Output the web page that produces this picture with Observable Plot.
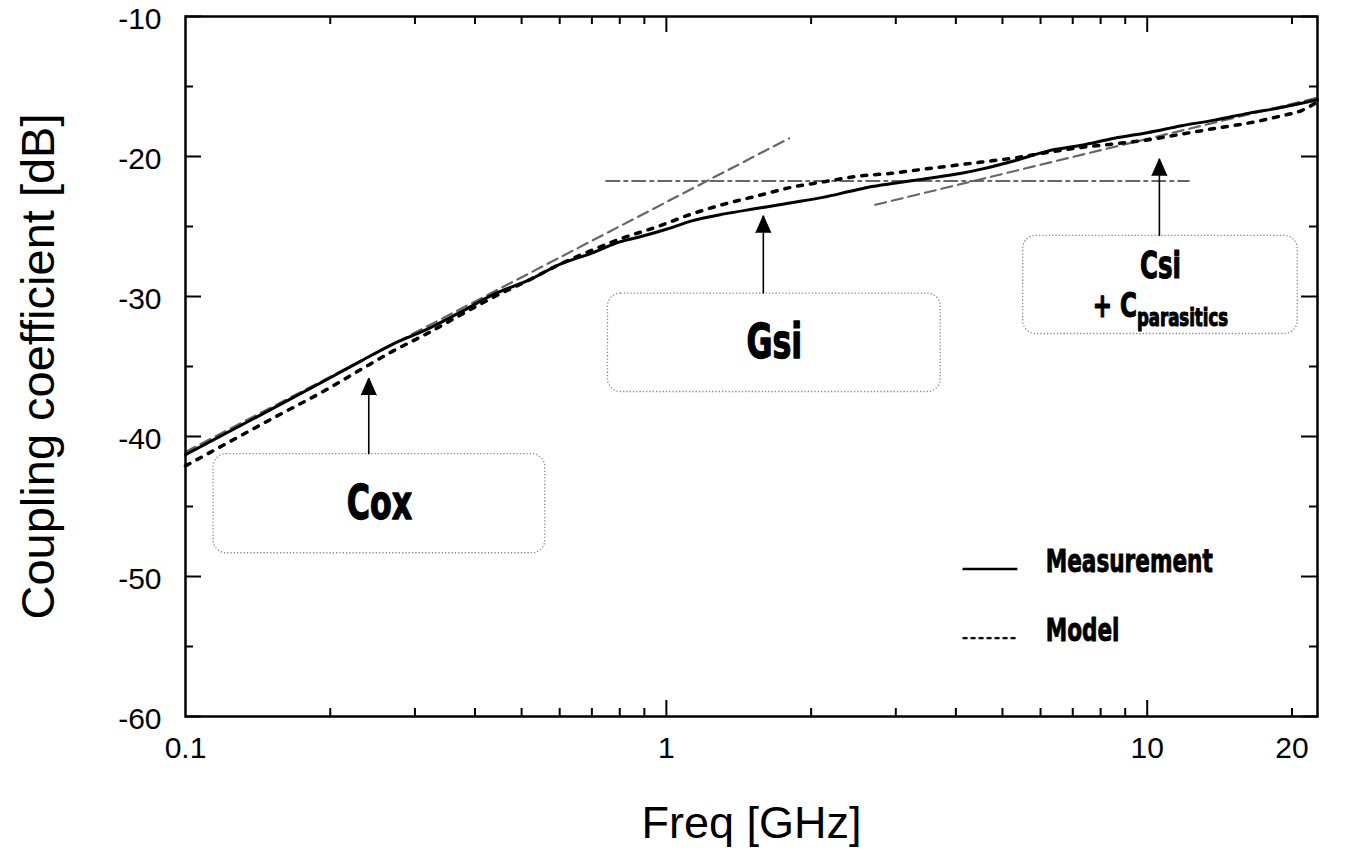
<!DOCTYPE html>
<html><head><meta charset="utf-8">
<script src="https://cdn.jsdelivr.net/npm/d3@7"></script>
<script src="https://cdn.jsdelivr.net/npm/@observablehq/plot@0.6"></script>
<style>html,body{margin:0;padding:0;background:#fff}</style>
</head><body><div id="chart"></div>
<script>
// ---- data ----
const measFreq = [0.1, 0.15, 0.2, 0.232, 0.27, 0.32, 0.374, 0.44, 0.52, 0.6, 0.7, 0.8, 0.89, 1.0, 1.13, 1.32, 1.55, 1.82, 2.13, 2.4, 2.63, 3.0, 3.44, 4.11, 4.52, 5.3, 6.23, 7.3, 8.55, 10.0, 11.8, 13.8, 16.3, 19.0, 22.6];
const measDb   = [-41.3, -38.1, -35.8, -34.6, -33.4, -32.3, -31.1, -29.8, -28.8, -27.7, -26.9, -26.1, -25.7, -25.2, -24.6, -24.1, -23.7, -23.3, -22.9, -22.5, -22.2, -21.9, -21.6, -21.2, -20.9, -20.3, -19.6, -19.2, -18.7, -18.3, -17.8, -17.4, -16.9, -16.5, -15.95];
const modelFreq = [0.1, 0.15, 0.2, 0.232, 0.27, 0.32, 0.374, 0.44, 0.52, 0.6, 0.7, 0.8, 0.96, 1.13, 1.32, 1.55, 1.82, 2.13, 2.51, 2.94, 3.44, 4.05, 4.52, 5.3, 6.23, 7.3, 8.55, 10.07, 11.8, 13.8, 16.3, 19.0, 21.0, 22.6];
const modelDb   = [-42.1, -38.8, -36.5, -35.2, -33.9, -32.6, -31.3, -30.0, -28.8, -27.7, -26.7, -25.9, -25.0, -24.1, -23.4, -22.8, -22.2, -21.8, -21.4, -21.2, -20.9, -20.6, -20.4, -20.1, -19.7, -19.35, -19.1, -18.8, -18.4, -18.0, -17.6, -17.1, -16.7, -16.1];

// asymptotes (gray)
const coxAsymFreq = [0.1, 1.8];   const coxAsymDb = [-41.1, -18.7];
const csiAsymFreq = [2.72, 22.6]; const csiAsymDb = [-23.45, -15.8];
const gsiLevelFreq = [0.75, 12.2]; const gsiLevelDb = [-21.75, -21.75];

// axes
const xDomain = [0.1, 22.6];
const yDomain = [-60, -10];
const xTickLabels = [0.1, 1, 10, 20];
const xMajorTicks = [1, 10];
const xMinorTicks = [0.2, 0.3, 0.4, 0.5, 0.6, 0.7, 0.8, 0.9, 2, 3, 4, 5, 6, 7, 8, 9, 20];
const yTickLabels = [-10, -20, -30, -40, -50, -60];
const yMinorTicks = [-15, -25, -35, -45, -55];
const xTitle = "Freq [GHz]";
const yTitle = "Coupling coefficient [dB]";

// annotation boxes (Cox, Gsi, Csi + Cparasitics)
const boxNames = ["Cox", "Gsi", "Csi"];
const boxF1 = [0.1144, 0.756, 5.52];
const boxF2 = [0.56, 3.72, 20.56];
const boxDbBottom = [-48.34, -36.82, -32.68];
const boxDbTop = [-41.26, -29.79, -25.67];
const arrowFreq = [0.2405, 1.591, 10.6];
const arrowTipDb = [-35.82, -24.23, -20.16];

// legend
const legendNames = ["Measurement", "Model"];
const legendDb = [-49.46, -54.4];
const legendF1 = 4.13, legendF2 = 5.37, legendTextF = 6.15;

// ---- build ----
const meas = measFreq.map((f, i) => ({f, db: measDb[i]}));
const model = modelFreq.map((f, i) => ({f, db: modelDb[i]}));
const asym = (F, D) => F.map((f, i) => ({f, db: D[i]}));
const boxes = boxNames.map((name, i) => ({
  name, f1: boxF1[i], f2: boxF2[i], b: boxDbBottom[i], t: boxDbTop[i],
  fc: Math.sqrt(boxF1[i] * boxF2[i]), dbc: (boxDbBottom[i] + boxDbTop[i]) / 2,
  af: arrowFreq[i], tip: arrowTipDb[i]
}));
const legend = legendNames.map((name, i) => ({name, db: legendDb[i], dash: i === 1}));

const W = 1353, H = 858, mL = 185, mR = 36, mT = 16, mB = 142;
const fw = W - mL - mR, fh = H - mT - mB;
const major = 16, minor = 8;
const narrow = "'Liberation Sans Narrow', 'DejaVu Sans Condensed', 'DejaVu Sans', sans-serif";
const heavy = {fontWeight: "bold", fontFamily: narrow, fill: "black", stroke: "black", className: "impact"};

const svg = Plot.plot({
  width: W, height: H,
  marginLeft: mL, marginRight: mR, marginTop: mT, marginBottom: mB,
  x: {type: "log", domain: xDomain, axis: null},
  y: {domain: yDomain, axis: null},
  style: {fontFamily: "'Liberation Sans', Arial, sans-serif", background: "white", color: "black"},
  marks: [
    // ticks inside frame, all four sides
    Plot.ruleX(xMajorTicks, {x: d => d, insetTop: fh - major, strokeWidth: 2}),
    Plot.ruleX(xMinorTicks, {x: d => d, insetTop: fh - minor, strokeWidth: 2}),
    Plot.ruleX(xMajorTicks, {x: d => d, insetBottom: fh - major, strokeWidth: 2}),
    Plot.ruleX(xMinorTicks, {x: d => d, insetBottom: fh - minor, strokeWidth: 2}),
    Plot.ruleY(yTickLabels, {y: d => d, insetRight: fw - major, strokeWidth: 2}),
    Plot.ruleY(yMinorTicks, {y: d => d, insetRight: fw - minor, strokeWidth: 2}),
    Plot.ruleY(yTickLabels, {y: d => d, insetLeft: fw - major, strokeWidth: 2}),
    Plot.ruleY(yMinorTicks, {y: d => d, insetLeft: fw - minor, strokeWidth: 2}),
    // tick labels
    Plot.text(xTickLabels, {x: d => d, text: d => String(d), frameAnchor: "bottom", dy: 41, fontSize: 30}),
    Plot.text(yTickLabels, {y: d => d, text: d => String(d), frameAnchor: "left", textAnchor: "end", dx: -24, dy: 3, fontSize: 30}),
    // axis titles
    Plot.text([xTitle], {frameAnchor: "bottom", textAnchor: "middle", dy: 121, fontSize: 45}),
    Plot.text([yTitle], {frameAnchor: "left", textAnchor: "middle", rotate: -90, dx: -147, fontSize: 47}),
    // annotation boxes
    Plot.rect(boxes, {x1: "f1", x2: "f2", y1: "b", y2: "t", rx: 13, fill: "none", stroke: "#8a8a8a", strokeWidth: 1.3, strokeDasharray: "1.3,2"}),
    // asymptotes
    Plot.line(asym(gsiLevelFreq, gsiLevelDb), {x: "f", y: "db", stroke: "#666", strokeWidth: 2.2, strokeDasharray: "13,5,3,5"}),
    Plot.line(asym(coxAsymFreq, coxAsymDb), {x: "f", y: "db", stroke: "#666", strokeWidth: 2.2, strokeDasharray: "11,6"}),
    Plot.line(asym(csiAsymFreq, csiAsymDb), {x: "f", y: "db", stroke: "#666", strokeWidth: 2.2, strokeDasharray: "11,6"}),
    // curves
    Plot.line(meas, {x: "f", y: "db", stroke: "black", strokeWidth: 3, curve: "monotone-x"}),
    Plot.line(model, {x: "f", y: "db", stroke: "black", strokeWidth: 3.5, strokeDasharray: "5,8", strokeLinecap: "round", curve: "monotone-x"}),
    // arrows
    Plot.link(boxes, {x1: "af", x2: "af", y1: "t", y2: "tip", stroke: "black", strokeWidth: 1.6}),
    Plot.vector(boxes, {x: "af", y: "tip", length: 17, r: 7.5, shape: "spike", anchor: "end", fill: "black", stroke: "black", strokeWidth: 1}),
    // box labels
    Plot.text(boxes.filter(d => d.name !== "Csi"), {x: "fc", y: "dbc", text: "name", fontSize: 44, strokeWidth: 1.2, ...heavy}),
    Plot.text(boxes.filter(d => d.name === "Csi"), {x: "fc", y: "dbc", text: "name", dy: -19, fontSize: 34, strokeWidth: 1, ...heavy}),
    Plot.text(boxes.filter(d => d.name === "Csi"), {x: "fc", y: "dbc", text: () => "+ C", dy: 21, fontSize: 32, strokeWidth: 1, ...heavy, className: "impact csi-sub"}),
    // legend
    Plot.link(legend.filter(d => !d.dash), {x1: () => legendF1, x2: () => legendF2, y1: "db", y2: "db", stroke: "black", strokeWidth: 2.5}),
    Plot.link(legend.filter(d => d.dash), {x1: () => legendF1, x2: () => legendF2, y1: "db", y2: "db", stroke: "black", strokeWidth: 2.2, strokeDasharray: "5,3"}),
    Plot.text(legend, {x: () => legendTextF, y: "db", text: "name", textAnchor: "start", dy: -7, fontSize: 30, strokeWidth: 0.8, ...heavy}),
    // frame
    Plot.frame({stroke: "black", strokeWidth: 2.5})
  ]
});

// subscript "parasitics"
d3.select(svg).selectAll("g.csi-sub text")
  .append("tspan").attr("font-size", 23).attr("dy", "0.35em").text("parasitics");

// condense the bold annotation font horizontally (Impact-like look)
d3.select(svg).selectAll("g.impact text").each(function() {
  const t = this.getAttribute("transform");
  if (t && t.includes("translate")) {
    this.setAttribute("transform", t + " scale(0.8,1.08)");
  } else {
    const x = +(this.getAttribute("x") || 0), y = +(this.getAttribute("y") || 0);
    this.removeAttribute("x"); this.removeAttribute("y");
    this.setAttribute("transform", `translate(${x},${y}) scale(0.8,1.08)`);
  }
});

document.getElementById("chart").appendChild(svg);
</script>
</body></html>
